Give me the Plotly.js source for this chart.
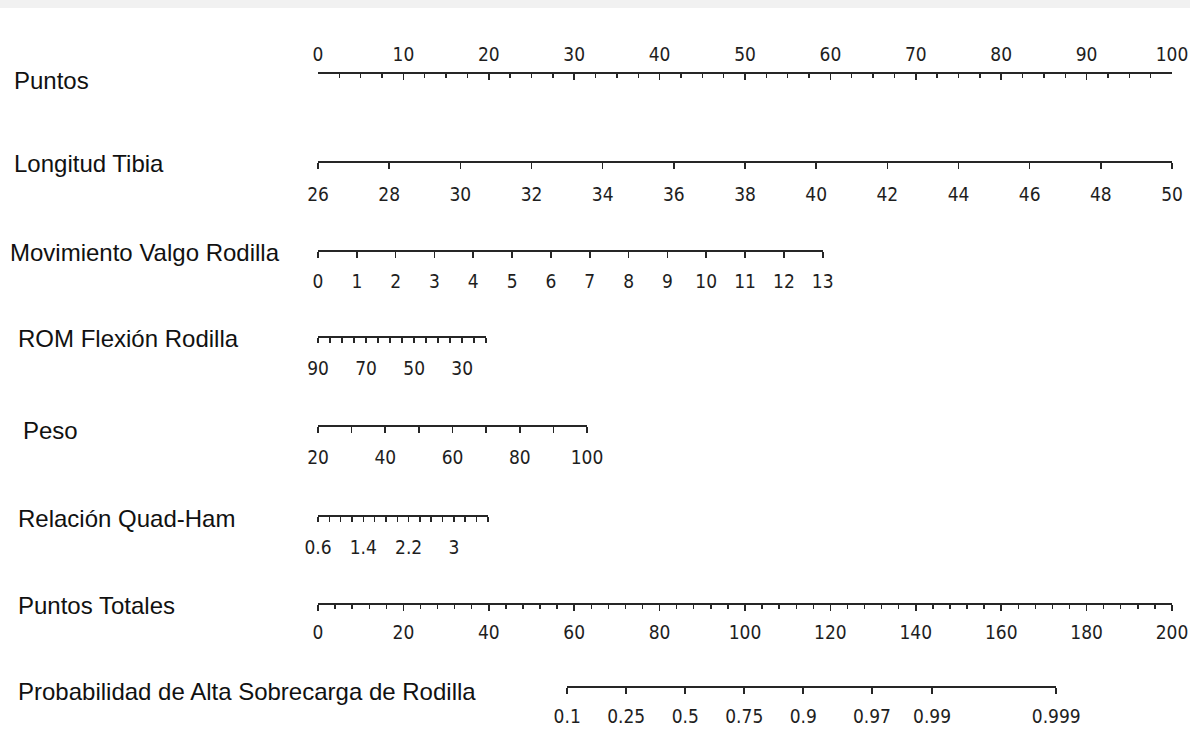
<!DOCTYPE html>
<html>
<head>
<meta charset="utf-8">
<script src="https://cdn.plot.ly/plotly-3.0.1.min.js"></script>
<style>
  html, body { margin: 0; padding: 0; background: #ffffff; }
  #chart { width: 1190px; height: 731px; }
</style>
</head>
<body>
<div id="chart"></div>
<script>
// ---------------- DATA ----------------
var rowNames = [
  "Puntos",
  "Longitud Tibia",
  "Movimiento Valgo Rodilla",
  "ROM Flexión Rodilla",
  "Peso",
  "Relación Quad-Ham",
  "Puntos Totales",
  "Probabilidad de Alta Sobrecarga de Rodilla"
];

// Puntos (0-100)
var puntosTicks = [0, 10, 20, 30, 40, 50, 60, 70, 80, 90, 100];
var puntosLabels = ["0", "10", "20", "30", "40", "50", "60", "70", "80", "90", "100"];

// Longitud Tibia: value range and points at each end
var tibiaTicks = [26, 28, 30, 32, 34, 36, 38, 40, 42, 44, 46, 48, 50];
var tibiaLabels = ["26", "28", "30", "32", "34", "36", "38", "40", "42", "44", "46", "48", "50"];
var tibiaPoints = [0, 100];

// Movimiento Valgo Rodilla
var valgoTicks = [0, 1, 2, 3, 4, 5, 6, 7, 8, 9, 10, 11, 12, 13];
var valgoLabels = ["0", "1", "2", "3", "4", "5", "6", "7", "8", "9", "10", "11", "12", "13"];
var valgoPoints = [0, 59.1];

// ROM Flexión Rodilla (reversed: 90 -> 0 points)
var romTicks = [90, 85, 80, 75, 70, 65, 60, 55, 50, 45, 40, 35, 30, 25, 20];
var romLabels = ["90", "", "", "", "70", "", "", "", "50", "", "", "", "30", "", ""];
var romPoints = [0, 19.7];

// Peso
var pesoTicks = [20, 30, 40, 50, 60, 70, 80, 90, 100];
var pesoLabels = ["20", "", "40", "", "60", "", "80", "", "100"];
var pesoPoints = [0, 31.5];

// Relación Quad-Ham
var quadTicks = [0.6, 0.8, 1.0, 1.2, 1.4, 1.6, 1.8, 2.0, 2.2, 2.4, 2.6, 2.8, 3.0, 3.2, 3.4, 3.6];
var quadLabels = ["0.6", "", "", "", "1.4", "", "", "", "2.2", "", "", "", "3", "", "", ""];
var quadPoints = [0, 19.9];

// Puntos Totales (0-200)
var totalTicks = [0, 20, 40, 60, 80, 100, 120, 140, 160, 180, 200];
var totalLabels = ["0", "20", "40", "60", "80", "100", "120", "140", "160", "180", "200"];

// Probabilidad: total points = probAtHalf + probPerLogit * logit(p)
var probTicks = [0.1, 0.25, 0.5, 0.75, 0.9, 0.97, 0.99, 0.999];
var probLabels = ["0.1", "0.25", "0.5", "0.75", "0.9", "0.97", "0.99", "0.999"];
var probAtHalf = 86.0;
var probPerLogit = 12.58;

// ---------------- LAYOUT HELPERS ----------------
var W = 1190, H = 731;
var X0 = 318, X1 = 1172;           // pixel span of the 0-100 points scale
var lineCol = "#262626";
var tickFont = {family: "Liberation Sans Narrow, Arial Narrow, DejaVu Sans Condensed, Liberation Sans, Arial, sans-serif", size: 19, color: "#1e1e1e"};
var labelFont = {family: "Liberation Sans, Arial, Helvetica, sans-serif", size: 24, color: "#111"};

function fx(px) { return px / W; }
function fy(py) { return 1 - py / H; }
function ptsDomain(pts, scaleMax) {
  var m = scaleMax || 100;
  return [fx(X0 + (X1 - X0) * pts[0] / m), fx(X0 + (X1 - X0) * pts[1] / m)];
}
function logit(p) { return Math.log(p / (1 - p)); }

function baseAxis(domain, range, tv, tt, yPix, extra) {
  var ax = {
    domain: domain,
    range: range,
    anchor: "free",
    position: fy(yPix),
    side: "bottom",
    showline: true,
    linecolor: lineCol,
    linewidth: 1.8,
    mirror: false,
    ticks: "outside",
    ticklen: 6,
    tickwidth: 1.6,
    tickcolor: lineCol,
    tickmode: "array",
    tickvals: tv,
    ticktext: tt,
    tickfont: tickFont,
    ticklabelstandoff: 8,
    showgrid: false,
    zeroline: false,
    fixedrange: true,
    automargin: false
  };
  if (extra) { for (var k in extra) ax[k] = extra[k]; }
  return ax;
}

var probVals = probTicks.map(logit);
var probPts = [probAtHalf + probPerLogit * probVals[0], probAtHalf + probPerLogit * probVals[probVals.length - 1]];

var layout = {
  width: W, height: H,
  margin: {l: 0, r: 0, t: 0, b: 0, pad: 0},
  paper_bgcolor: "#ffffff",
  plot_bgcolor: "rgba(0,0,0,0)",
  showlegend: false,
  yaxis: {domain: [0, 1], range: [0, 1], visible: false, fixedrange: true},
  xaxis: baseAxis(ptsDomain([0, 100]), [0, 100], puntosTicks, puntosLabels, 72, {
    side: "top", ticks: "inside", ticklen: 6, ticklabelstandoff: 3,
    minor: {tickmode: "linear", tick0: 0, dtick: 2.5, ticks: "inside", ticklen: 4, tickwidth: 1.4, tickcolor: lineCol, showgrid: false}
  }),
  xaxis2: baseAxis(ptsDomain(tibiaPoints), [tibiaTicks[0], tibiaTicks[tibiaTicks.length - 1]], tibiaTicks, tibiaLabels, 161, {ticklabelstandoff: 9}),
  xaxis3: baseAxis(ptsDomain(valgoPoints), [valgoTicks[0], valgoTicks[valgoTicks.length - 1]], valgoTicks, valgoLabels, 250, {ticklabelstandoff: 7}),
  xaxis4: baseAxis(ptsDomain(romPoints), [romTicks[0], romTicks[romTicks.length - 1]], romTicks, romLabels, 336, {ticklen: 5, ticklabelstandoff: 9}),
  xaxis5: baseAxis(ptsDomain(pesoPoints), [pesoTicks[0], pesoTicks[pesoTicks.length - 1]], pesoTicks, pesoLabels, 425, {ticklabelstandoff: 8}),
  xaxis6: baseAxis(ptsDomain(quadPoints), [quadTicks[0], quadTicks[quadTicks.length - 1]], quadTicks, quadLabels, 515, {ticklen: 5, ticklabelstandoff: 9}),
  xaxis7: baseAxis(ptsDomain([0, 200], 200), [0, 200], totalTicks, totalLabels, 603, {
    ticklen: 6, ticklabelstandoff: 5,
    minor: {tickmode: "linear", tick0: 0, dtick: 4, ticks: "outside", ticklen: 4, tickwidth: 1.4, tickcolor: lineCol, showgrid: false}
  }),
  xaxis8: baseAxis(ptsDomain(probPts, 200), [probVals[0], probVals[probVals.length - 1]], probVals, probLabels, 686, {ticklabelstandoff: 6}),
  shapes: [
    {type: "rect", xref: "paper", yref: "paper", x0: 0, x1: 1, y0: fy(8), y1: 1, fillcolor: "#f1f1f1", line: {width: 0}, layer: "below"}
  ],
  annotations: []
};

var labelPos = [[12, 80], [12, 164], [8, 252], [16, 338], [21, 431], [16, 518], [16, 605], [16, 691]];
rowNames.forEach(function (name, i) {
  layout.annotations.push({
    text: name, xref: "paper", yref: "paper",
    x: fx(labelPos[i][0]), y: fy(labelPos[i][1]),
    xanchor: "left", yanchor: "middle", showarrow: false, font: labelFont
  });
});

// one invisible trace per axis so every axis is laid out
var axisTicks = [puntosTicks, tibiaTicks, valgoTicks, romTicks, pesoTicks, quadTicks, totalTicks, probVals];
var data = axisTicks.map(function (tv, i) {
  return {
    type: "scatter", mode: "markers",
    x: tv, y: tv.map(function () { return 0.5; }),
    xaxis: i === 0 ? "x" : "x" + (i + 1), yaxis: "y",
    marker: {opacity: 0, size: 1}, hoverinfo: "skip", showlegend: false
  };
});

Plotly.newPlot("chart", data, layout, {displayModeBar: false, staticPlot: true});
</script>
</body>
</html>
